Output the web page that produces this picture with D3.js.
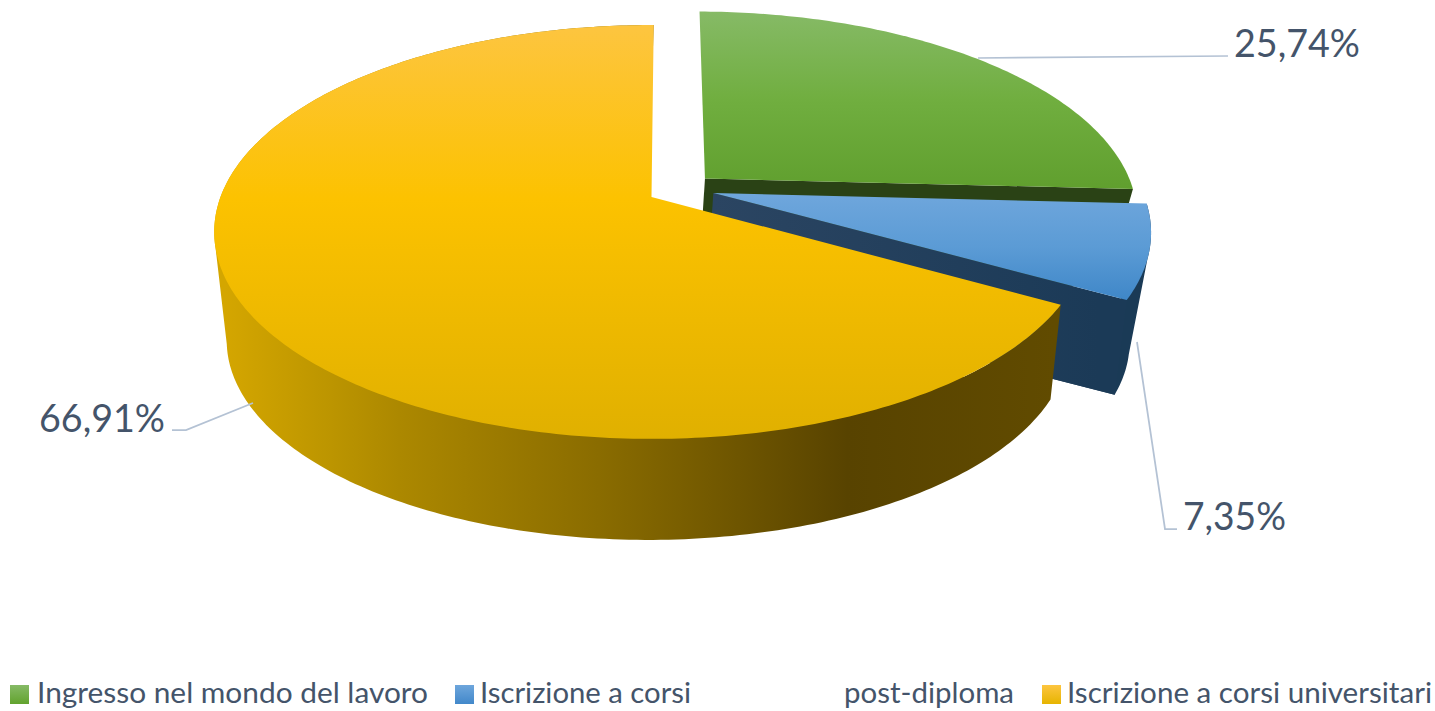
<!DOCTYPE html>
<html><head><meta charset="utf-8">
<script src="https://cdn.jsdelivr.net/npm/d3@7"></script>
<style>html,body{margin:0;padding:0;background:#fff;overflow:hidden}svg{display:block}text{font-family:Lato,"Open Sans",sans-serif;fill:#44546A}</style>
</head><body><svg id="c" width="1435" height="711"></svg>
<script>
const categories = ["Ingresso nel mondo del lavoro", "Iscrizione a corsi post-diploma", "Iscrizione a corsi universitari"];
const values = [25.74, 7.35, 66.91];
const valueLabels = ["25,74%", "7,35%", "66,91%"];
const explode = [[0.126, -0.093], [0.144, -0.02], [0, 0]];

const svg = d3.select("#c"), defs = svg.append("defs");
const top_ = {cx:651.5, cy:197, a:431, b:201, k:0.169};
const bot = {cx:648, cy:294.7, a:410, b:188.8, k:0.23};
const proj = (p,u,v)=>{const w=1-p.k*v; return [p.cx+p.a*u/w, p.cy+p.b*v/w];};
const line = d3.line();
const pie = d3.pie().sort(null).value(d=>d).startAngle(0.006).endAngle(0.006+2*Math.PI)(values);

function grad(id,stops,x1,y1,x2,y2){
  const g=defs.append("linearGradient").attr("id",id).attr("gradientUnits","userSpaceOnUse")
    .attr("x1",x1).attr("y1",y1).attr("x2",x2).attr("y2",y2);
  stops.forEach(s=>g.append("stop").attr("offset",s[0]).attr("stop-color",s[1]));
  return `url(#${id})`;
}
const fills = [
 {top:grad("gt",[[0,"#86BA66"],[0.5,"#70AE3F"],[1,"#609F2E"]],0,12,0,190), side:"#2A4215", wall:null, lg:["#86BA66","#62A32E"]},
 {top:grad("bt",[[0,"#6EA6DC"],[0.5,"#5B9BD5"],[1,"#3F87C8"]],0,195,0,300), side:grad("bs",[[0,"#2B4562"],[1,"#1B3A57"]],714,0,1100,0), wall:"#1A3A56", lg:["#6EA6DC","#4288CA"]},
 {top:grad("yt",[[0,"#FDC540"],[0.42,"#FCC200"],[1,"#E0B000"]],0,25,0,440),
  side:null,
  wall:grad("yw",[[0,"#D4A600"],[0.127,"#BC9500"],[0.21,"#AC8800"],[0.45,"#8A6C00"],[0.75,"#584300"],[1,"#614B00"]],225,0,1055,0),
  lg:["#FDC540","#E6B400"]}
];

const step = 0.015;
function rim(p,s,a0,a1){
  const n=Math.max(2,Math.ceil((a1-a0)/step));
  return d3.range(n+1).map(i=>{const a=a0+(a1-a0)*i/n; return proj(p,s[0]+Math.sin(a),s[1]-Math.cos(a));});
}
// every wall quad wound the same way, so one non-zero path gives their union without seams
const wound = q => d3.polygonArea(q) < 0 ? q.slice().reverse() : q;
pie.forEach((d,i)=>{
  const s=explode[i], f=fills[i], g=svg.append("g").attr("class","slice");
  const apexT=proj(top_,s[0],s[1]), apexB=proj(bot,s[0],s[1]);
  const rT=rim(top_,s,d.startAngle,d.endAngle), rB=rim(bot,s,d.startAngle,d.endAngle);
  if(f.wall){
    const quads=d3.range(rT.length-1).map(j=>wound([rT[j],rT[j+1],rB[j+1],rB[j]]));
    g.append("path").attr("d",wound([apexB,...rB]).length?line(wound([apexB,...rB]))+"Z"+quads.map(q=>line(q)+"Z").join(""):"")
      .attr("fill",f.wall).attr("fill-rule","nonzero");
  }
  if(f.side) g.append("path").attr("d",line([apexT,rT[rT.length-1],rB[rB.length-1],apexB])+"Z").attr("fill",f.side);
  g.append("path").attr("d",line([apexT,...rT])+"Z").attr("fill",f.top);
});

// leader lines
const leaderAt = [[[978,58],[1228,56]], [[1137,342],[1165,529],[1177,529]], [[253,403],[186,430],[172,430]]];
const labelAt = [[1234,57,126],[1183,530,103],[39,432,126]];
leaderAt.forEach(l=>svg.append("path").attr("d",line(l)).attr("fill","none").attr("stroke","#B4C2D4").attr("stroke-width",1.75));
valueLabels.forEach((t,i)=>svg.append("text").attr("x",labelAt[i][0]).attr("y",labelAt[i][1])
  .attr("font-size",38).attr("textLength",labelAt[i][2]).attr("lengthAdjust","spacingAndGlyphs").text(t));

// legend
const legendSwatch = [10,455,1042];
const legendParts = [
 [["Ingresso nel mondo del lavoro",37,391]],
 [["Iscrizione a corsi",480,211],["post-diploma",844,170]],
 [["Iscrizione a corsi universitari",1067,365]]
];
legendSwatch.forEach((x,i)=>{
  const id="lg"+i; grad(id,[[0,fills[i].lg[0]],[1,fills[i].lg[1]]],0,685,0,704);
  svg.append("rect").attr("x",x).attr("y",685).attr("width",19).attr("height",19).attr("fill",`url(#${id})`);
  legendParts[i].forEach(p=>svg.append("text").attr("x",p[1]).attr("y",703).attr("font-size",28)
    .attr("textLength",p[2]).attr("lengthAdjust","spacingAndGlyphs").text(p[0]));
});
</script></body></html>
